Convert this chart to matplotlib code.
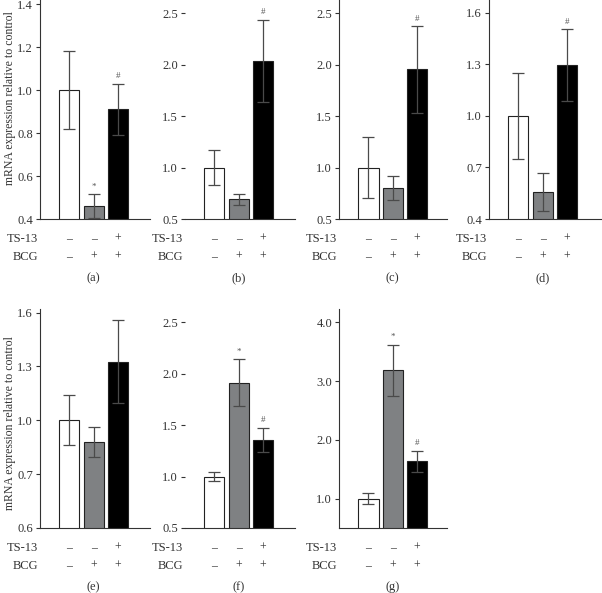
import matplotlib.pyplot as plt

plt.rcParams['font.family'] = ['Liberation Serif', 'DejaVu Serif']

# groups: control, BCG, TS-13 + BCG
x_pos = [0, 1, 2]
ts13_signs = ['–', '–', '+']
bcg_signs = ['–', '+', '+']
bar_colors = ['white', '#7f8183', 'black']

a_mean = [1.00, 0.46, 0.91]
a_err = [0.18, 0.055, 0.12]
a_mark = ['', '*', '#']

b_mean = [1.00, 0.69, 2.04]
b_err = [0.17, 0.05, 0.40]
b_mark = ['', '', '#']

c_mean = [1.00, 0.80, 1.955]
c_err = [0.30, 0.12, 0.42]
c_mark = ['', '', '#']

d_mean = [1.00, 0.555, 1.295]
d_err = [0.25, 0.11, 0.21]
d_mark = ['', '', '#']

e_mean = [1.00, 0.878, 1.327]
e_err = [0.14, 0.085, 0.23]
e_mark = ['', '', '']

f_mean = [1.00, 1.915, 1.355]
f_err = [0.04, 0.23, 0.12]
f_mark = ['', '*', '#']

g_mean = [1.00, 3.18, 1.635]
g_err = [0.09, 0.44, 0.18]
g_mark = ['', '*', '#']

a_ticks = [0.4, 0.6, 0.8, 1.0, 1.2, 1.4]
a_ticklabels = ['0.4', '0.6', '0.8', '1.0', '1.2', '1.4']
bc_ticks = [0.5, 1.0, 1.5, 2.0, 2.5]
bc_ticklabels = ['0.5', '1.0', '1.5', '2.0', '2.5']
d_ticks = [0.4, 0.7, 1.0, 1.3, 1.6]
d_ticklabels = ['0.4', '0.7', '1.0', '1.3', '1.6']
e_ticks = [0.4, 0.7, 1.0, 1.3, 1.6]
e_ticklabels = ['0.6', '0.7', '1.0', '1.3', '1.6']   # as printed in the source figure
g_ticks = [1.0, 2.0, 3.0, 4.0]
g_ticklabels = ['1.0', '2.0', '3.0', '4.0']

panels = [
    # label, mean, err, marks, ylim, ticks, ticklabels, rect, left spine
    ('(a)', a_mean, a_err, a_mark, (0.4, 1.419), a_ticks, a_ticklabels, [40, 0, 110], True),
    ('(b)', b_mean, b_err, b_mark, (0.5, 2.63), bc_ticks, bc_ticklabels, [185, 0, 110], False),
    ('(c)', c_mean, c_err, c_mark, (0.5, 2.63), bc_ticks, bc_ticklabels, [339, 0, 108], True),
    ('(d)', d_mean, d_err, d_mark, (0.4, 1.675), d_ticks, d_ticklabels, [489, 0, 112], True),
    ('(e)', e_mean, e_err, e_mark, (0.4, 1.62), e_ticks, e_ticklabels, [40, 309, 110], True),
    ('(f)', f_mean, f_err, f_mark, (0.5, 2.63), bc_ticks, bc_ticklabels, [185, 309, 110], False),
    ('(g)', g_mean, g_err, g_mark, (0.5, 4.226), g_ticks, g_ticklabels, [339, 309, 108], True),
]

W, H = 602, 593
fig = plt.figure(figsize=(W / 100, H / 100), dpi=100)
ax_h = 219

for label, mean, err, marks, ylim, ticks, ticklabels, rect, show_left in panels:
    left, top, width = rect
    ax = fig.add_axes([left / W, (H - top - ax_h) / H, width / W, ax_h / H])
    ax.bar(x_pos, mean, width=0.83, color=bar_colors, edgecolor='#222222', linewidth=0.8, zorder=2)
    ax.errorbar(x_pos, mean, yerr=err, fmt='none', ecolor='#4a4a4a', elinewidth=0.9,
                capsize=4, capthick=0.9, zorder=3)
    for xi, m, e, mk in zip(x_pos, mean, err, marks):
        if mk:
            ax.annotate(mk, (xi, m + e), xytext=(0, 2.5), textcoords='offset points',
                        ha='center', va='bottom', fontsize=6.5, color='#555555')
    ax.set_xlim(-1.22, 2 + (width - 118 + 40) / 24)
    ax.set_ylim(*ylim)
    ax.set_yticks(ticks)
    ax.set_yticklabels(ticklabels)
    ax.set_xticks([])
    for s in ['top', 'right']:
        ax.spines[s].set_visible(False)
    ax.spines['left'].set_visible(show_left)
    for s in ['left', 'bottom']:
        ax.spines[s].set_linewidth(0.8)
        ax.spines[s].set_color('#333333')
    ax.tick_params(axis='y', labelsize=9, length=3, width=0.8, pad=2, colors='#333333')

    trans = ax.get_xaxis_transform()
    ax.text(-0.02, -20 / ax_h, 'TS-13', transform=ax.transAxes, ha='right', va='center',
            fontsize=9, color='#333333')
    ax.text(-0.02, -38 / ax_h, 'BCG', transform=ax.transAxes, ha='right', va='center',
            fontsize=9, color='#333333')
    for xi, t, bsign in zip(x_pos, ts13_signs, bcg_signs):
        ax.text(xi, -20 / ax_h, t, transform=trans, ha='center', va='center',
                fontsize=8.5, color='#333333')
        ax.text(xi, -38 / ax_h, bsign, transform=trans, ha='center', va='center',
                fontsize=8.5, color='#333333')
    ax.text(1, -59 / ax_h, label, transform=trans, ha='center', va='center',
            fontsize=9, color='#333333')

    if label in ('(a)', '(e)'):
        ax.set_ylabel('mRNA expression relative to control', fontsize=8.5, color='#333333')
        ax.yaxis.set_label_coords(-0.215, 0.55 if label == '(a)' else 0.48)

fig.savefig('out.png', dpi=100)
